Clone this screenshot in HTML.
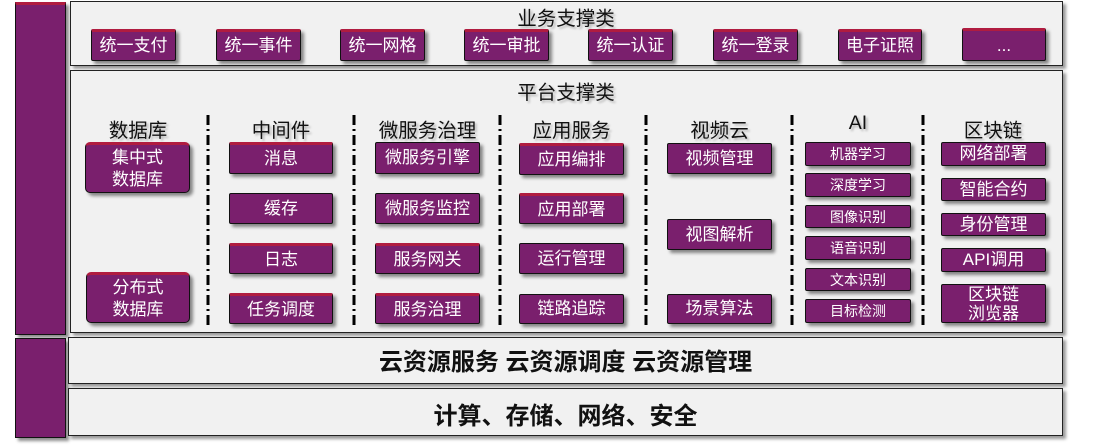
<!DOCTYPE html>
<html><head><meta charset="utf-8"><style>
body{margin:0;width:1108px;height:448px;background:#fff;position:relative;overflow:hidden;font-family:"Liberation Sans","Noto Sans CJK SC",sans-serif}
.a{position:absolute;box-sizing:border-box}
.bar{background:#7a1f6d;border:1.5px solid #111;border-top:3px solid #b01c40;box-shadow:3px 3px 3px rgba(0,0,0,.45)}
.p{background:#f1f1f1;border:1.5px solid #222;box-shadow:3px 3px 3px rgba(0,0,0,.4)}
.b{background:#7a1f6d;border:1.5px solid #111;color:#fff;display:flex;align-items:center;justify-content:center;text-align:center;font-size:17px;line-height:22px;box-shadow:3px 3px 3px rgba(0,0,0,.45);border-radius:2px;white-space:nowrap}
.r{border-top:3px solid #b01c40}
.s{font-size:14px}
.h{font-size:19.5px;color:#111;text-align:center;text-shadow:2px 2px 2px rgba(0,0,0,.25)}
.big{font-weight:bold;font-size:24px;color:#111;text-align:center}
</style></head><body>
<div class="a bar" style="left:15px;top:2px;width:51px;height:333px"></div>
<div class="a bar" style="left:15px;top:338px;width:51px;height:100px;border-top:1.5px solid #111"></div>
<div class="a p" style="left:70px;top:1px;width:993px;height:65px"></div>
<div class="a p" style="left:70px;top:70px;width:993px;height:263px"></div>
<div class="a p" style="left:68px;top:337px;width:995px;height:47px"></div>
<div class="a p" style="left:68px;top:388px;width:995px;height:48px"></div>
<div class="a h" style="left:456px;top:2px;width:220px">业务支撑类</div>
<div class="a h" style="left:456px;top:76px;width:220px">平台支撑类</div>
<div class="a big" style="left:68px;top:342px;width:995px">云资源服务 云资源调度 云资源管理</div>
<div class="a big" style="left:68px;top:396px;width:995px">计算、存储、网络、安全</div>

<div class="a b r" style="left:91px;top:29px;width:85px;height:32px">统一支付</div>
<div class="a b r" style="left:216px;top:29px;width:85px;height:32px">统一事件</div>
<div class="a b r" style="left:340px;top:29px;width:85px;height:32px">统一网格</div>
<div class="a b r" style="left:464px;top:29px;width:85px;height:32px">统一审批</div>
<div class="a b r" style="left:588px;top:29px;width:85px;height:32px">统一认证</div>
<div class="a b r" style="left:713px;top:29px;width:85px;height:32px">统一登录</div>
<div class="a b r" style="left:838px;top:29px;width:84px;height:32px">电子证照</div>
<div class="a b r" style="left:962px;top:28px;width:84px;height:33px">...</div>

<div class="a h" style="left:78px;top:114px;width:120px">数据库</div>
<div class="a h" style="left:221px;top:114px;width:120px">中间件</div>
<div class="a h" style="left:367px;top:114px;width:121px">微服务治理</div>
<div class="a h" style="left:511px;top:114px;width:121px">应用服务</div>
<div class="a h" style="left:659px;top:114px;width:121px">视频云</div>
<div class="a h" style="left:797px;top:112px;width:122px">AI</div>
<div class="a h" style="left:933px;top:114px;width:120px">区块链</div>

<svg class="a" style="left:0;top:0" width="1108" height="448">
<g stroke="#000" stroke-width="3" stroke-dasharray="10 4 2 4" fill="none">
<line x1="208" y1="115" x2="208" y2="327"/><line x1="354" y1="115" x2="354" y2="327"/>
<line x1="500" y1="115" x2="500" y2="327"/><line x1="646" y1="115" x2="646" y2="327"/>
<line x1="792" y1="115" x2="792" y2="327"/><line x1="923" y1="115" x2="923" y2="327"/>
</g></svg>

<div class="a b r" style="left:85px;top:142px;width:105px;height:51px;border-radius:5px">集中式<br>数据库</div>
<div class="a b r" style="left:86px;top:272px;width:104px;height:51px;border-radius:5px">分布式<br>数据库</div>

<div class="a b r" style="left:229px;top:142px;width:104px;height:32px">消息</div>
<div class="a b" style="left:229px;top:193px;width:104px;height:31px">缓存</div>
<div class="a b r" style="left:229px;top:243px;width:104px;height:31px">日志</div>
<div class="a b r" style="left:229px;top:293px;width:104px;height:31px">任务调度</div>

<div class="a b" style="left:375px;top:142px;width:105px;height:32px">微服务引擎</div>
<div class="a b" style="left:375px;top:193px;width:105px;height:31px">微服务监控</div>
<div class="a b r" style="left:375px;top:243px;width:105px;height:31px">服务网关</div>
<div class="a b r" style="left:375px;top:293px;width:105px;height:31px">服务治理</div>

<div class="a b r" style="left:519px;top:143px;width:105px;height:32px">应用编排</div>
<div class="a b r" style="left:519px;top:193px;width:105px;height:31px">应用部署</div>
<div class="a b" style="left:519px;top:243px;width:105px;height:31px">运行管理</div>
<div class="a b" style="left:519px;top:294px;width:105px;height:30px">链路追踪</div>

<div class="a b" style="left:667px;top:143px;width:105px;height:31px">视频管理</div>
<div class="a b" style="left:667px;top:219px;width:105px;height:31px">视图解析</div>
<div class="a b" style="left:667px;top:294px;width:105px;height:30px">场景算法</div>

<div class="a b s" style="left:805px;top:142px;width:106px;height:24px">机器学习</div>
<div class="a b s" style="left:805px;top:173px;width:106px;height:24px">深度学习</div>
<div class="a b s" style="left:805px;top:205px;width:106px;height:23px">图像识别</div>
<div class="a b s" style="left:805px;top:236px;width:106px;height:24px">语音识别</div>
<div class="a b s" style="left:805px;top:268px;width:106px;height:23px">文本识别</div>
<div class="a b s" style="left:805px;top:299px;width:106px;height:24px">目标检测</div>

<div class="a b" style="left:941px;top:142px;width:105px;height:24px">网络部署</div>
<div class="a b" style="left:941px;top:178px;width:105px;height:23px">智能合约</div>
<div class="a b" style="left:941px;top:213px;width:105px;height:23px">身份管理</div>
<div class="a b" style="left:941px;top:248px;width:105px;height:24px">API调用</div>
<div class="a b" style="left:941px;top:284px;width:105px;height:39px;line-height:19px">区块链<br>浏览器</div>
</body></html>
